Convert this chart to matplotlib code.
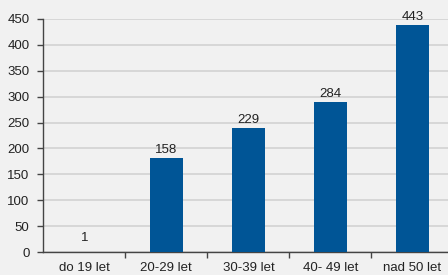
import matplotlib
matplotlib.use("Agg")
import matplotlib.pyplot as plt
from matplotlib import font_manager

# data
categories = ["do 19 let", "20-29 let", "30-39 let", "40- 49 let", "nad 50 let"]
bar_heights = [1, 181, 239, 290, 438]      # drawn bar heights
bar_labels = ["1", "158", "229", "284", "443"]  # printed values
y_ticks = [0, 50, 100, 150, 200, 250, 300, 350, 400, 450]

names = {f.name for f in font_manager.fontManager.ttflist}
family = ["Liberation Sans Narrow", "DejaVu Sans"] if "Liberation Sans Narrow" in names else ["Liberation Sans", "DejaVu Sans"]
plt.rcParams["font.family"] = family

bg = "#f1f1f1"
bar_color = "#005596"
fs = 9.5

fig = plt.figure(figsize=(4.48, 2.75), dpi=100, facecolor=bg)
ax = fig.add_axes([43.3 / 448, 1 - 252.3 / 275, (453.5 - 43.3) / 448, (252.3 - 18.7) / 275])
ax.set_facecolor(bg)

x = range(len(categories))
ax.bar(x, bar_heights, width=0.4, color=bar_color, zorder=3)
for xi, h, lab in zip(x, bar_heights, bar_labels):
    off = 14 if h < 5 else 8
    ax.annotate(lab, (xi, h), xytext=(0, off), textcoords="offset pixels",
                ha="center", va="center", fontsize=fs, color="#222222")

ax.set_ylim(0, 450)
ax.set_xlim(-0.5, len(categories) - 0.5)
ax.set_yticks(y_ticks)
ax.yaxis.grid(True, color="#d2d2d2", linewidth=1.2, zorder=0)
ax.set_axisbelow(True)

ax.set_xticks([i + 0.5 for i in range(len(categories) - 1)], minor=False)
ax.set_xticklabels([])
ax.set_xticks(list(x), minor=True)
ax.set_xticklabels(categories, minor=True)
ax.tick_params(axis="x", which="major", length=4, color="#444444", width=1)
ax.tick_params(axis="x", which="minor", length=0, pad=7, labelsize=fs, labelcolor="#222222")
ax.tick_params(axis="y", length=4, color="#444444", width=1, pad=6, labelsize=fs, labelcolor="#222222")

for s in ["top", "right"]:
    ax.spines[s].set_visible(False)
for s in ["left", "bottom"]:
    ax.spines[s].set_color("#444444")
    ax.spines[s].set_linewidth(1.0)

plt.savefig("out.png", dpi=100, facecolor=bg)
